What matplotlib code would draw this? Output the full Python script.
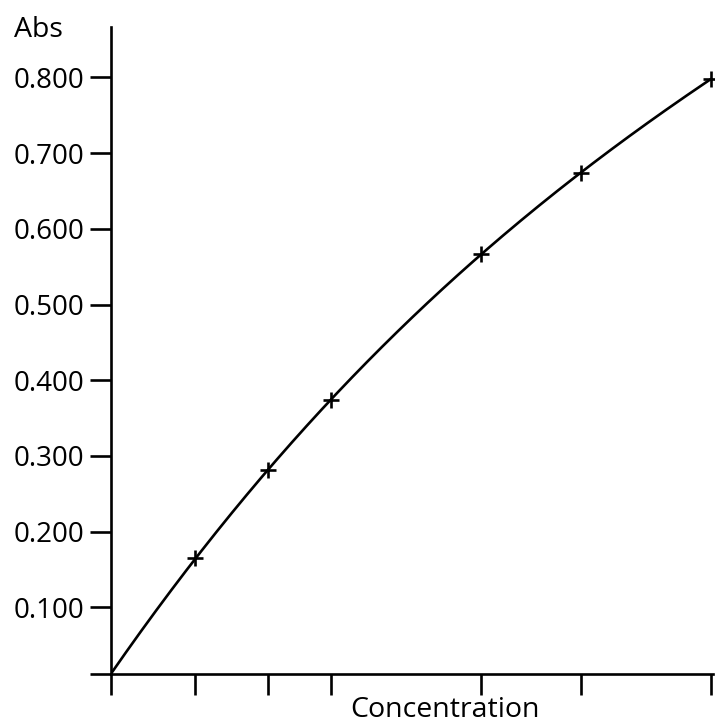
import matplotlib.pyplot as plt
import numpy as np

plt.rcParams['font.family'] = ['Open Sans', 'DejaVu Sans']

# readings (concentration in arbitrary units, absorbance)
conc = [0.84, 1.57, 2.20, 3.70, 4.70, 6.00]
absorbance = [0.165, 0.281, 0.374, 0.567, 0.674, 0.798]
y_floor = 0.012
ytick_vals = [0.100, 0.200, 0.300, 0.400, 0.500, 0.600, 0.700, 0.800]
ytick_labels = ["0.100", "0.200", "0.300", "0.400", "0.500", "0.600", "0.700", "0.800"]

fig = plt.figure(figsize=(7.15, 7.26), dpi=100)
ax = fig.add_axes([111/715, 52/726, 602/715, 647/726])

# smooth calibration curve through the origin and the points
cx = np.r_[0.0, conc]
cy = np.r_[y_floor, absorbance]
coef = np.polyfit(cx, cy, 3)
xs = np.linspace(0, conc[-1], 200)
ax.plot(xs, np.polyval(coef, xs), color='black', lw=1.9, solid_capstyle='round')
ax.plot(conc, absorbance, ls='none', marker='+', ms=11, mew=1.9, color='black', clip_on=False)

ax.set_xlim(0, 6.02)
ax.set_ylim(y_floor, 0.8666)
ax.set_xticks([0.0] + conc)
ax.set_xticklabels([])
ax.set_yticks([y_floor] + ytick_vals)
ax.set_yticklabels([""] + ytick_labels)
ax.tick_params(direction='out', length=15, width=1.9, labelsize=20, pad=4, color='black')

for s in ['top', 'right']:
    ax.spines[s].set_visible(False)
for s in ['left', 'bottom']:
    ax.spines[s].set_linewidth(1.9)

fig.text(14/715, 1 - 30/726, "Abs", fontsize=20.5, va='center', ha='left')
fig.text(445/715, 1 - 710/726, "Concentration", fontsize=20.5, va='center', ha='center')

fig.savefig("out.png", dpi=100)
